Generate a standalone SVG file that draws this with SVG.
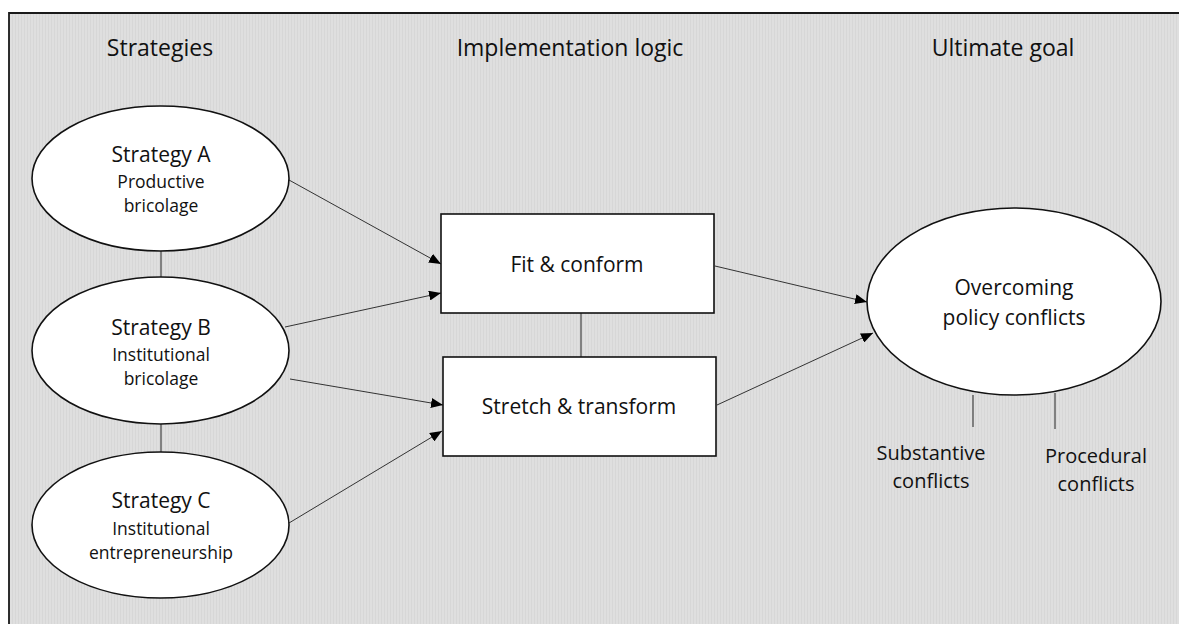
<svg xmlns="http://www.w3.org/2000/svg" width="1179" height="624" viewBox="0 0 1179 624">
  <defs>
    <pattern id="grain" width="3" height="3" patternUnits="userSpaceOnUse">
      <rect width="3" height="3" fill="#dfdfdf"/>
      <rect width="1" height="3" fill="#d7d7d7"/>
    </pattern>
    <marker id="arrow" viewBox="0 0 12 10" refX="12" refY="5" markerWidth="12" markerHeight="10" markerUnits="userSpaceOnUse" orient="auto">
      <path d="M0,0 L12,5 L0,10 Z" fill="#000"/>
    </marker>
    <style>
      text { font-family: "Open Sans", "Noto Sans", "Liberation Sans", sans-serif; fill: #111; text-anchor: middle; }
      .head { font-size: 23px; }
      .title { font-size: 21px; }
      .sub { font-size: 17.5px; }
      .note { font-size: 20px; }
      .shape { fill: #fff; stroke: #111; stroke-width: 1.6; }
      .link { stroke: #222; stroke-width: 1; fill: none; }
      .flow { stroke: #333; stroke-width: 1; fill: none; marker-end: url(#arrow); }
    </style>
  </defs>

  <!-- canvas and frame -->
  <rect width="1179" height="624" fill="#fff"/>
  <rect x="9" y="13" width="1170" height="611" fill="url(#grain)"/>
  <path d="M9,624 V13 H1179" fill="none" stroke="#1a1a1a" stroke-width="1.8"/>

  <!-- column headings -->
  <g id="headings">
    <text class="head" x="160" y="56">Strategies</text>
    <text class="head" x="570" y="56">Implementation logic</text>
    <text class="head" x="1003" y="56">Ultimate goal</text>
  </g>

  <!-- connectors -->
  <g id="connectors">
    <line class="link" x1="161" y1="251" x2="161" y2="277"/>
    <line class="link" x1="161" y1="424" x2="161" y2="452"/>
    <line class="link" x1="581" y1="313" x2="581" y2="357"/>
    <line class="link" x1="973" y1="395" x2="973" y2="427"/>
    <line class="link" x1="1055" y1="393" x2="1055" y2="429"/>
    <line class="flow" x1="289" y1="180" x2="441" y2="264"/>
    <line class="flow" x1="285" y1="327" x2="441" y2="293"/>
    <line class="flow" x1="290" y1="379" x2="443" y2="405"/>
    <line class="flow" x1="289" y1="523" x2="442" y2="431"/>
    <line class="flow" x1="715" y1="266" x2="867" y2="302"/>
    <line class="flow" x1="717" y1="405" x2="873" y2="333"/>
  </g>

  <g id="strategy-a">
    <ellipse class="shape" cx="160.5" cy="178.5" rx="128.5" ry="72.5"/>
    <text class="title" x="161" y="162">Strategy A</text>
    <text class="sub" x="161" y="188">Productive</text>
    <text class="sub" x="161" y="212">bricolage</text>
  </g>

  <g id="strategy-b">
    <ellipse class="shape" cx="160.5" cy="350.5" rx="128.5" ry="73.5"/>
    <text class="title" x="161" y="335">Strategy B</text>
    <text class="sub" x="161" y="361">Institutional</text>
    <text class="sub" x="161" y="385">bricolage</text>
  </g>

  <g id="strategy-c">
    <ellipse class="shape" cx="160.5" cy="525" rx="128.5" ry="73"/>
    <text class="title" x="161" y="508">Strategy C</text>
    <text class="sub" x="161" y="535">Institutional</text>
    <text class="sub" x="161" y="559">entrepreneurship</text>
  </g>

  <g id="fit-conform">
    <rect class="shape" x="441" y="214" width="273" height="99"/>
    <text class="title" x="577" y="272">Fit &amp; conform</text>
  </g>

  <g id="stretch-transform">
    <rect class="shape" x="443" y="357" width="273" height="99"/>
    <text class="title" x="579" y="414">Stretch &amp; transform</text>
  </g>

  <g id="overcoming-conflicts">
    <ellipse class="shape" cx="1014" cy="301.5" rx="147" ry="93.5"/>
    <text class="title" x="1014" y="295">Overcoming</text>
    <text class="title" x="1014" y="325">policy conflicts</text>
  </g>

  <g id="substantive-conflicts">
    <text class="note" x="931" y="460">Substantive</text>
    <text class="note" x="931" y="488">conflicts</text>
  </g>

  <g id="procedural-conflicts">
    <text class="note" x="1096" y="463">Procedural</text>
    <text class="note" x="1096" y="491">conflicts</text>
  </g>
</svg>
